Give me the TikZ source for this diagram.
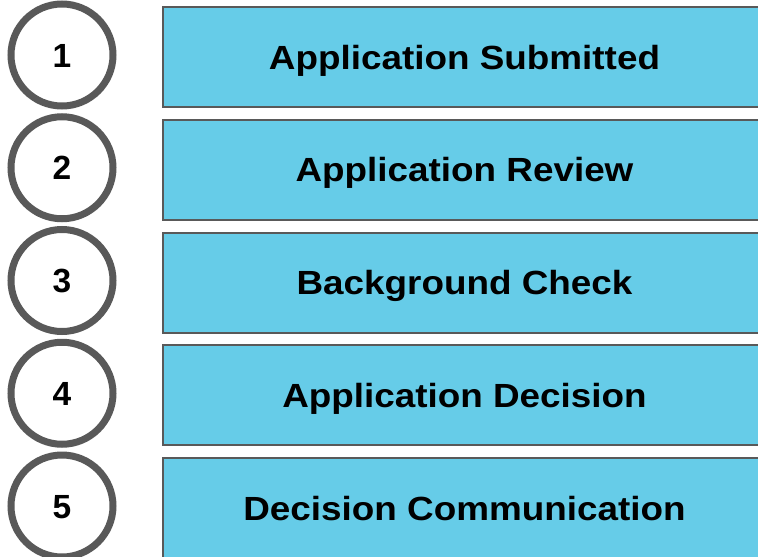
\documentclass[tikz,border=0pt]{standalone}
\usepackage{fontspec}
\setmainfont{Liberation Sans}
\newfontfamily\stepfont[FakeStretch=1.1]{Liberation Sans}
\usepackage{tikz}
\usetikzlibrary{positioning}

\definecolor{stepblue}{HTML}{66CCE8}
\definecolor{ringgray}{HTML}{595959}

\begin{document}
\begin{tikzpicture}[x=1pt,y=1pt,node distance=112.75pt,
                    stepbox/.style={rectangle,draw=ringgray,line width=2pt,fill=stepblue,
                                    minimum width=603pt,minimum height=100pt,inner sep=0pt,
                                    text height=24pt,text depth=0pt,
                                    font=\stepfont\fontsize{33.5}{40}\selectfont\bfseries},
                    numcirc/.style={circle,draw=ringgray,line width=7pt,fill=white,
                                    minimum size=102pt,inner sep=0pt,
                                    text height=24pt,text depth=0pt,
                                    font=\fontsize{33.5}{40}\selectfont\bfseries}]
  \useasboundingbox (0,0) rectangle (758,-557);

  \node[stepbox]   (s1)              at (464.5,-57) {Application Submitted};
  \node[stepbox]   (s2) [below of=s1] {Application Review};
  \node[stepbox]   (s3) [below of=s2] {Background Check};
  \node[stepbox]   (s4) [below of=s3] {Application Decision};
  \node[stepbox]   (s5) [below of=s4] {Decision Communication};

  \node[numcirc]   (c1)              at (62,-55) {1};
  \node[numcirc]   (c2) [below of=c1] {2};
  \node[numcirc]   (c3) [below of=c2] {3};
  \node[numcirc]   (c4) [below of=c3] {4};
  \node[numcirc]   (c5) [below of=c4] {5};
\end{tikzpicture}
\end{document}
